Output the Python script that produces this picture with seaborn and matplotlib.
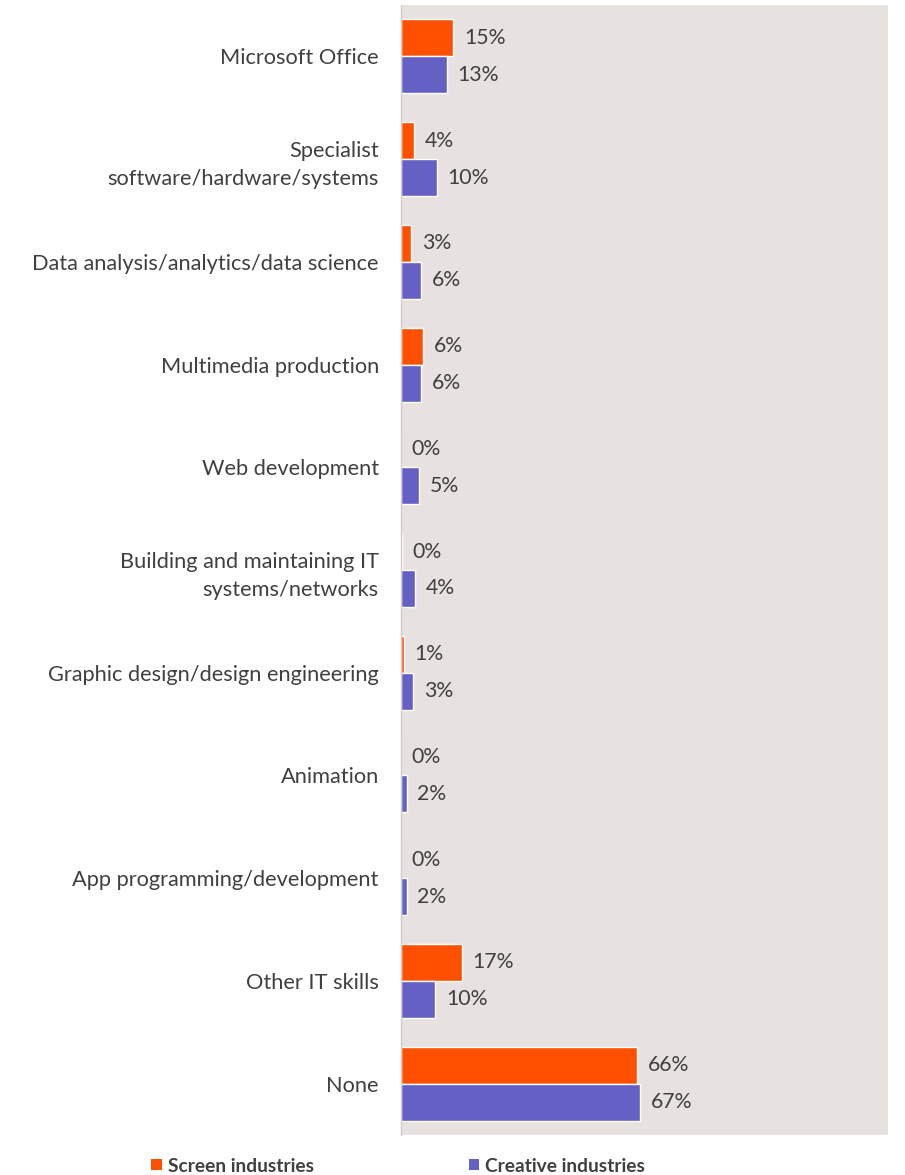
import matplotlib
matplotlib.use("Agg")
import matplotlib.pyplot as plt
import seaborn as sns
import pandas as pd
from matplotlib.patches import Patch

categories = [
    "Microsoft Office",
    "Specialist\nsoftware/hardware/systems",
    "Data analysis/analytics/data science",
    "Multimedia production",
    "Web development",
    "Building and maintaining IT\nsystems/networks",
    "Graphic design/design engineering",
    "Animation",
    "App programming/development",
    "Other IT skills",
    "None",
]
screen = [14.6, 3.6, 2.8, 6.1, 0.0, 0.3, 0.8, 0.0, 0.0, 17.0, 66.0]
creative = [12.8, 10.0, 5.6, 5.6, 5.0, 3.9, 3.3, 1.6, 1.6, 9.6, 66.8]
series_names = ["Screen industries", "Creative industries"]
colors = ["#FF5000", "#6460C4"]

df = pd.DataFrame({
    "cat": categories * 2,
    "val": screen + creative,
    "series": [series_names[0]] * len(categories) + [series_names[1]] * len(categories),
})

sns.set_theme(style="white")
plt.rcParams["font.family"] = ["Lato", "DejaVu Sans"]

fig = plt.figure(figsize=(9.05, 11.75), dpi=100)
ax = fig.add_axes([401 / 905, 1 - 1135 / 1175, (888 - 401) / 905, (1135 - 5) / 1175])
ax.set_facecolor("#E7E2DF")

sns.barplot(data=df, y="cat", x="val", hue="series", orient="h",
            palette=colors, width=0.72, dodge=True, ax=ax,
            edgecolor="white", linewidth=1.0, saturation=1, legend=False)

ax.set_xlim(0, 136)
ax.set_ylim(10.5, -0.5)
ax.set_xticks([])
ax.set_xlabel("")
ax.set_ylabel("")
for s in ["top", "right", "bottom"]:
    ax.spines[s].set_visible(False)
ax.spines["left"].set_color("#D0CCCA")
ax.spines["left"].set_linewidth(1.0)
ax.tick_params(axis="y", length=0, pad=16, labelsize=15.7, labelcolor="#404040")
for lab in ax.get_yticklabels():
    lab.set_horizontalalignment("right")
    lab.set_multialignment("right")
    lab.set_linespacing(1.5)

txtc = "#404040"
for i in range(len(categories)):
    ax.text(screen[i] + 3.0, i - 0.18, f"{round(screen[i]):d}%", va="center", ha="left",
            fontsize=15.3, color=txtc)
    ax.text(creative[i] + 3.0, i + 0.18, f"{round(creative[i]):d}%", va="center", ha="left",
            fontsize=15.3, color=txtc)

handles = [Patch(facecolor=c, edgecolor="none") for c in colors]
leg = fig.legend(handles, series_names, loc="center left", bbox_to_anchor=(134 / 905, 1 - 1166 / 1175),
                 ncol=2, frameon=False, handlelength=0.55, handleheight=0.55, handletextpad=0.3,
                 columnspacing=8.1, prop={"weight": "bold", "size": 13.8})
for t in leg.get_texts():
    t.set_color("#404040")

fig.savefig("out.png", dpi=100)
